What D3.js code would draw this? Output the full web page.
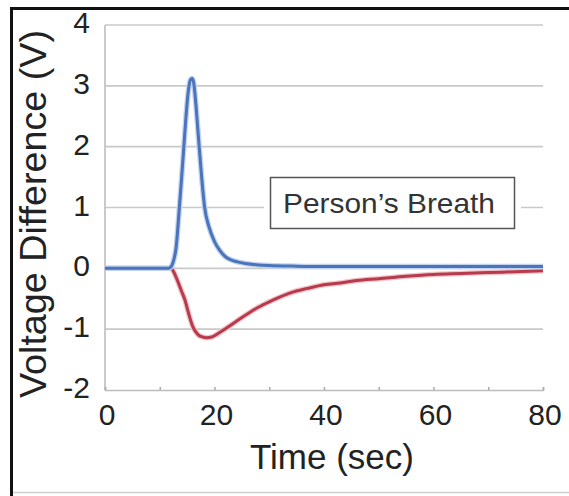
<!DOCTYPE html>
<html>
<head>
<meta charset="utf-8">
<script src="https://cdn.jsdelivr.net/npm/d3@7"></script>
<style>
  html, body { margin: 0; padding: 0; background: #fff; }
  svg { display: block; }
</style>
</head>
<body>
<svg id="chart" width="569" height="496"></svg>
<script>
// ---- data ----
const xTicks = [0, 20, 40, 60, 80];
const xMinorTicks = [0, 10, 20, 30, 40, 50, 60, 70, 80];
const yTicks = [-2, -1, 0, 1, 2, 3, 4];
const xTitle = "Time (sec)";
const yTitle = "Voltage Difference (V)";
const annotation = "Person\u2019s Breath";

const blueTime = [0, 5, 10, 11.5, 12, 12.5, 13, 13.5, 14, 14.4, 14.8, 15.2, 15.6, 15.9, 16.2, 16.5, 16.9, 17.2, 17.7, 18.2, 19, 20, 21, 22, 23, 24, 26, 28, 30, 35, 40, 50, 60, 70, 80];
const blueVolt = [0, 0, 0, 0, 0.02, 0.12, 0.35, 0.9, 1.5, 2.0, 2.5, 2.9, 3.1, 3.12, 3.05, 2.8, 2.35, 2.0, 1.45, 1.0, 0.68, 0.44, 0.29, 0.19, 0.14, 0.11, 0.075, 0.055, 0.045, 0.035, 0.03, 0.03, 0.03, 0.03, 0.03];

const redTime = [0, 5, 10, 12, 12.5, 13, 14, 14.6, 15.3, 16, 16.8, 17.5, 18.5, 19.5, 20.5, 22.2, 24, 26, 28, 30, 32, 34, 37, 40, 43, 46, 50, 55, 60, 65, 70, 75, 80];
const redVolt = [0, 0, 0, 0, -0.05, -0.15, -0.38, -0.52, -0.75, -0.95, -1.07, -1.12, -1.14, -1.13, -1.08, -0.98, -0.87, -0.75, -0.64, -0.55, -0.47, -0.4, -0.33, -0.27, -0.24, -0.2, -0.17, -0.13, -0.1, -0.085, -0.07, -0.055, -0.04];

// ---- chart ----
const svg = d3.select("#chart");
const font = "'Liberation Sans', Arial, sans-serif";

// outer frame
svg.append("line").attr("x1", 11.5).attr("x2", 11.5).attr("y1", 7).attr("y2", 496)
  .attr("stroke", "#111").attr("stroke-width", 3);
svg.append("line").attr("x1", 10).attr("x2", 569).attr("y1", 8.5).attr("y2", 8.5)
  .attr("stroke", "#111").attr("stroke-width", 3);
svg.append("line").attr("x1", 13).attr("x2", 569).attr("y1", 492.5).attr("y2", 492.5)
  .attr("stroke", "#d0d0d0").attr("stroke-width", 1.5);

const x = d3.scaleLinear().domain([0, 80]).range([105, 543]);
const y = d3.scaleLinear().domain([-2, 4]).range([390, 25]);

// gridlines
svg.append("g").selectAll("line").data(yTicks.filter(d => d !== -2)).join("line")
  .attr("x1", x(0)).attr("x2", x(80))
  .attr("y1", d => y(d)).attr("y2", d => y(d))
  .attr("stroke", "#c9c9c9").attr("stroke-width", 1.6);

// axes lines
svg.append("line").attr("x1", x(0)).attr("x2", x(0)).attr("y1", y(4)).attr("y2", y(-2))
  .attr("stroke", "#bdbdbd").attr("stroke-width", 1.6);
const xAxis = d3.axisBottom(x).tickValues(xMinorTicks).tickSize(-3).tickFormat("");
const gx = svg.append("g").attr("transform", `translate(0,${y(-2)})`).call(xAxis);
gx.select(".domain").attr("stroke", "#bdbdbd").attr("stroke-width", 1.6);
gx.selectAll(".tick line").attr("stroke", "#aaa").attr("stroke-width", 1.5);

// tick labels
svg.append("g").selectAll("text").data(yTicks).join("text")
  .attr("x", 90).attr("y", d => y(d) + 8)
  .attr("text-anchor", "end")
  .attr("font-family", font).attr("font-size", 30).attr("fill", "#222")
  .text(d => d);
svg.append("g").selectAll("text").data(xTicks).join("text")
  .attr("x", d => x(d) + 2).attr("y", 425)
  .attr("text-anchor", "middle")
  .attr("font-family", font).attr("font-size", 30).attr("fill", "#222")
  .text(d => d);

// axis titles
svg.append("text").attr("x", 332).attr("y", 469)
  .attr("text-anchor", "middle").attr("font-family", font).attr("font-size", 35).attr("fill", "#222")
  .text(xTitle);
svg.append("text").attr("transform", "translate(46,214) rotate(-90)")
  .attr("text-anchor", "middle").attr("font-family", font).attr("font-size", 36).attr("fill", "#222")
  .attr("textLength", 368).attr("lengthAdjust", "spacingAndGlyphs")
  .text(yTitle);

// lines
const line = d3.line().x(d => x(d[0])).y(d => y(d[1])).curve(d3.curveMonotoneX);
const blueData = blueTime.map((t, i) => [t, blueVolt[i]]);
const redData = redTime.map((t, i) => [t, redVolt[i]]);

svg.append("path").datum(redData).attr("d", line)
  .attr("fill", "none").attr("stroke", "#f3c5cb").attr("stroke-width", 5.5).attr("stroke-linejoin", "round");
svg.append("path").datum(redData).attr("d", line)
  .attr("fill", "none").attr("stroke", "#b63b4d").attr("stroke-width", 3).attr("stroke-linejoin", "round");
svg.append("path").datum(blueData).attr("d", line)
  .attr("fill", "none").attr("stroke", "#c3d3ee").attr("stroke-width", 5.5).attr("stroke-linejoin", "round");
svg.append("path").datum(blueData).attr("d", line)
  .attr("fill", "none").attr("stroke", "#4a74bc").attr("stroke-width", 3).attr("stroke-linejoin", "round");

// annotation box
svg.append("rect").attr("x", 264).attr("y", 172).attr("width", 257).attr("height", 62).attr("fill", "#fff");
svg.append("rect").attr("x", 270.5).attr("y", 177.5).attr("width", 244).attr("height", 51)
  .attr("fill", "#fff").attr("stroke", "#555").attr("stroke-width", 1.5);
svg.append("text").attr("x", 389).attr("y", 213)
  .attr("text-anchor", "middle").attr("font-family", font).attr("font-size", 28).attr("fill", "#333")
  .attr("textLength", 212).attr("lengthAdjust", "spacingAndGlyphs")
  .text(annotation);
</script>
</body>
</html>
